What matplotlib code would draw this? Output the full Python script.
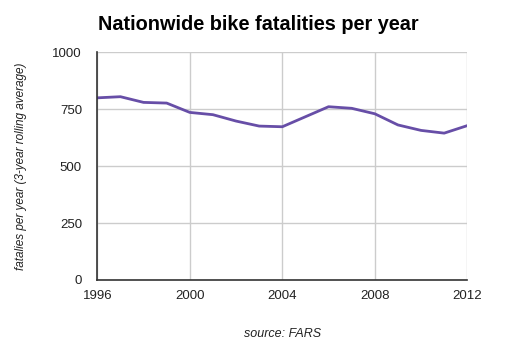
import matplotlib
matplotlib.use("Agg")
import matplotlib.pyplot as plt

years = [1996, 1997, 1998, 1999, 2000, 2001, 2002, 2003, 2004, 2005, 2006,
         2007, 2008, 2009, 2010, 2011, 2012]
fatalities = [800, 805, 780, 777, 736, 726, 698, 676, 673, 717, 761,
              754, 730, 681, 657, 645, 678]
x_ticks = [1996, 2000, 2004, 2008, 2012]
y_ticks = [0, 250, 500, 750, 1000]

plt.rcParams['font.family'] = ['Liberation Sans', 'DejaVu Sans']

fig = plt.figure(figsize=(5.28, 3.41), dpi=100)
ax = fig.add_axes([97.3 / 528, 1 - 280 / 341, 370 / 528, (280 - 52.3) / 341])

ax.plot(years, fatalities, color='#674ea7', linewidth=2, solid_joinstyle='round')

ax.set_xlim(1996, 2012)
ax.set_ylim(0, 1000)
ax.set_xticks(x_ticks)
ax.set_yticks(y_ticks)
ax.grid(True, color='#cccccc', linewidth=1)
ax.set_axisbelow(True)
for s in ['top', 'right']:
    ax.spines[s].set_visible(False)
for s in ['left', 'bottom']:
    ax.spines[s].set_color('#333333')
    ax.spines[s].set_linewidth(1.2)
ax.tick_params(length=0, labelsize=9.5, colors='#222222')
ax.tick_params(axis='x', pad=7)
ax.tick_params(axis='y', pad=11)

ax.set_xlabel('source: FARS', fontstyle='italic', fontsize=9, color='#222222', labelpad=19)
ax.set_ylabel('fatalies per year (3-year rolling average)', fontstyle='italic',
              fontsize=8.5, color='#222222', labelpad=18)

fig.text(98.3 / 528, 1 - 30 / 341, 'Nationwide bike fatalities per year',
         fontsize=14.3, fontweight='bold', color='#000000', ha='left', va='baseline')

fig.savefig('out.png', dpi=100)
